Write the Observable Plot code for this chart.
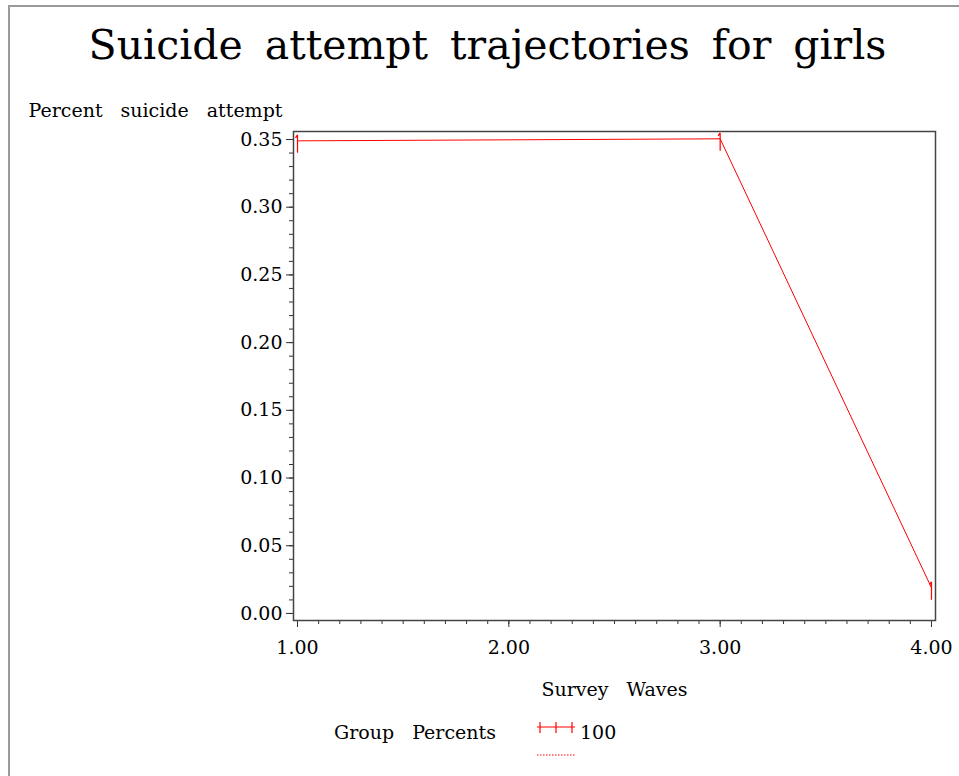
<!DOCTYPE html>
<html>
<head>
<meta charset="utf-8">
<script src="https://cdn.jsdelivr.net/npm/d3@7"></script>
<script src="https://cdn.jsdelivr.net/npm/@observablehq/plot@0.6"></script>
<style>
  html, body { margin: 0; padding: 0; background: #fff; }
  #page { position: relative; width: 959px; height: 776px; overflow: hidden; font-family: "DejaVu Serif", serif; color: #000; }
  #border { position: absolute; left: 8px; top: 5px; width: 960px; height: 780px; border-top: 2px solid #9a9a9a; border-left: 2px solid #9a9a9a; }
  #title { position: absolute; left: 0; width: 975px; top: 21px; text-align: center; font-size: 41px; word-spacing: 9px; white-space: nowrap; }
  #chart { position: absolute; left: 0; top: 90px; }
  #legend-title { position: absolute; left: 334px; top: 721px; font-size: 19px; word-spacing: 12px; white-space: nowrap; }
  #legend-sym { position: absolute; left: 535px; top: 718px; }
  #legend-label { position: absolute; left: 580px; top: 721px; font-size: 19px; }
</style>
</head>
<body>
<div id="page">
  <div id="border"></div>
  <div id="title"></div>
  <div id="chart"></div>
  <div id="legend-title"></div>
  <svg id="legend-sym" width="45" height="45"></svg>
  <div id="legend-label"></div>
</div>
<script>
// ---- data ----
const titleText = "Suicide attempt trajectories for girls";
const yLabelText = "Percent suicide attempt";
const xLabelText = "Survey Waves";
const legendTitleText = "Group Percents";
const groupLabels = ["100"];
const waves = [1, 3, 4];
const percents = [0.349, 0.3505, 0.019];
const xTickValues = [1, 2, 3, 4];
const yTickValues = [0, 0.05, 0.10, 0.15, 0.20, 0.25, 0.30, 0.35];
const xMinorTicks = d3.range(10, 41).map(d => d / 10);
const yMinorTicks = d3.range(0, 36).map(d => d / 100);

const data = waves.map((w, i) => ({wave: w, pct: percents[i]}));

document.getElementById("title").textContent = titleText;
document.getElementById("legend-title").textContent = legendTitleText;
document.getElementById("legend-label").textContent = groupLabels[0];

// marker: vertical bar with a small hook (SAS-style)
const barSymbol = {
  draw(ctx) {
    ctx.moveTo(0, -6);
    ctx.lineTo(0, 12);
    ctx.moveTo(0, -6);
    ctx.lineTo(-2, -3);
  }
};

const chart = Plot.plot({
  width: 959,
  height: 625,
  marginTop: 41,
  marginBottom: 95,
  marginLeft: 293,
  marginRight: 24,
  style: {fontFamily: "DejaVu Serif, serif", fontSize: "19px", color: "#000", background: "transparent", overflow: "visible"},
  x: {domain: [0.981, 4.019]},
  y: {domain: [-0.0052, 0.3559]},
  marks: [
    Plot.axisX({ticks: xMinorTicks, tickSize: 4, tickFormat: () => "", label: null, stroke: "#333"}),
    Plot.axisX({ticks: xTickValues, tickSize: 7, tickPadding: 13, tickFormat: d3.format(".2f"), label: null, stroke: "#333", fontSize: 19}),
    Plot.axisY({ticks: yMinorTicks, tickSize: 4, tickFormat: () => "", label: null, stroke: "#333"}),
    Plot.axisY({ticks: yTickValues, tickSize: 7, tickPadding: 4, tickFormat: d3.format(".2f"), label: null, stroke: "#333", fontSize: 19}),
    Plot.frame({stroke: "#444", strokeWidth: 1.5}),
    Plot.line(data, {x: "wave", y: "pct", stroke: "#ff0000", strokeWidth: 1}),
    Plot.dot(data, {x: "wave", y: "pct", symbol: barSymbol, stroke: "#ff0000", fill: "none", strokeWidth: 1.2}),
    Plot.text([yLabelText], {frameAnchor: "top-left", text: d => d, dx: -265, dy: -21, textAnchor: "start", lineAnchor: "middle", fontSize: 19}),
    Plot.text([xLabelText], {frameAnchor: "bottom", text: d => d, dy: 69, lineAnchor: "middle", fontSize: 19})
  ]
});
chart.style.wordSpacing = "12px";
document.getElementById("chart").appendChild(chart);

// legend swatch
const sym = d3.select("#legend-sym");
sym.append("line").attr("x1", 2).attr("x2", 40).attr("y1", 9).attr("y2", 9).attr("stroke", "#ff0000").attr("stroke-width", 1.2);
[5, 21, 37].forEach(x => sym.append("line").attr("x1", x).attr("x2", x).attr("y1", 4).attr("y2", 15).attr("stroke", "#ff0000").attr("stroke-width", 1.2));
sym.append("line").attr("x1", 2).attr("x2", 40).attr("y1", 37).attr("y2", 37).attr("stroke", "#ff0000").attr("stroke-width", 1).attr("stroke-dasharray", "1.5,1.5");
</script>
</body>
</html>
